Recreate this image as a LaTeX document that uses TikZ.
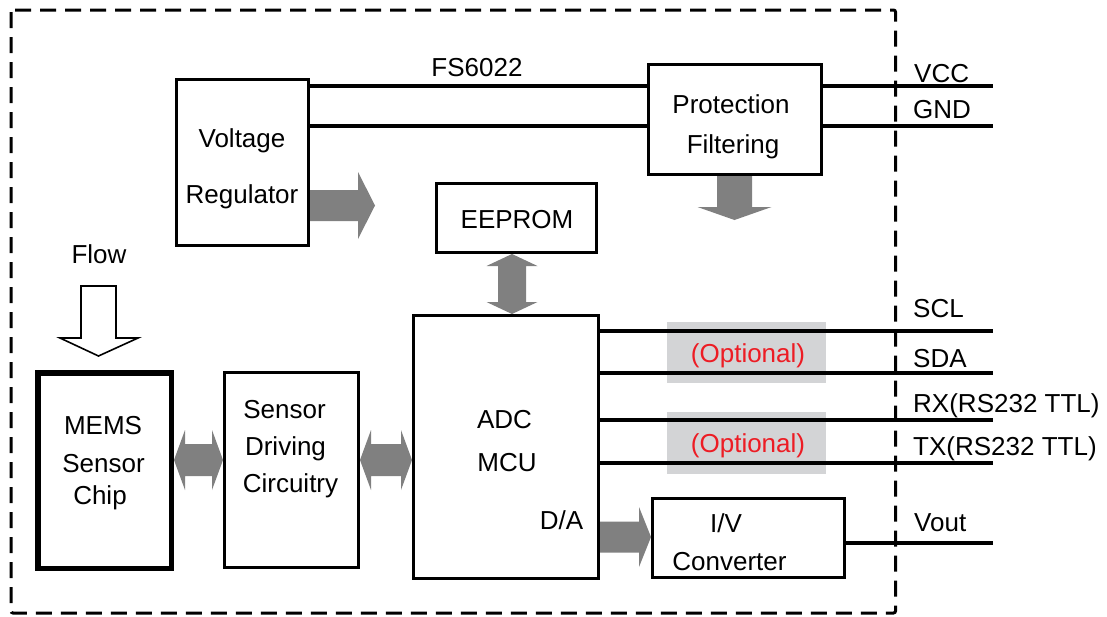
\documentclass[tikz,border=0pt]{standalone}
\usepackage{fontspec}
\setmainfont{Liberation Sans}
\usetikzlibrary{calc}

\definecolor{arrowgray}{RGB}{128,128,128}
\definecolor{optbg}{RGB}{211,212,214}
\definecolor{optred}{RGB}{237,28,36}

% Block arrows: #1 tail/first tip, #2 tip/second tip, #3 head length,
% #4 head half-width, #5 body half-width (all in pt)
\newcommand\BlockRight[5]{%
  \fill[blockarrow] ([yshift=#5]#1) -- ([shift={(-#3,#5)}]#2) -- ([shift={(-#3,#4)}]#2)
    -- (#2) -- ([shift={(-#3,-#4)}]#2) -- ([shift={(-#3,-#5)}]#2) -- ([yshift=-#5]#1) -- cycle;}
\newcommand\BlockDown[5]{%
  \fill[blockarrow] ([xshift=-#5]#1) -- ([shift={(-#5,#3)}]#2) -- ([shift={(-#4,#3)}]#2)
    -- (#2) -- ([shift={(#4,#3)}]#2) -- ([shift={(#5,#3)}]#2) -- ([xshift=#5]#1) -- cycle;}
\newcommand\BlockBothH[5]{%
  \fill[blockarrow] (#1) -- ([shift={(#3,#4)}]#1) -- ([shift={(#3,#5)}]#1)
    -- ([shift={(-#3,#5)}]#2) -- ([shift={(-#3,#4)}]#2) -- (#2)
    -- ([shift={(-#3,-#4)}]#2) -- ([shift={(-#3,-#5)}]#2)
    -- ([shift={(#3,-#5)}]#1) -- ([shift={(#3,-#4)}]#1) -- cycle;}
\newcommand\BlockBothV[5]{%
  \fill[blockarrow] (#1) -- ([shift={(#4,-#3)}]#1) -- ([shift={(#5,-#3)}]#1)
    -- ([shift={(#5,#3)}]#2) -- ([shift={(#4,#3)}]#2) -- (#2)
    -- ([shift={(-#4,#3)}]#2) -- ([shift={(-#5,#3)}]#2)
    -- ([shift={(-#5,-#3)}]#1) -- ([shift={(-#4,-#3)}]#1) -- cycle;}

\begin{document}
\begin{tikzpicture}[x=1pt,y=1pt,
  box/.style={draw, line width=3.4pt, inner sep=0pt},
  thickbox/.style={draw, line width=5.5pt, inner sep=0pt},
  lab/.style={inner sep=0pt, anchor=base, font=\fontsize{26}{30}\selectfont},
  pin/.style={lab, anchor=base west},
  wire/.style={line width=3.2pt},
  blockarrow/.style={fill=arrowgray},
  border/.style={line width=3pt, dash pattern=on 16pt off 9pt, rounded corners=2pt},
  optbox/.style={fill=optbg, inner sep=0pt}]

\useasboundingbox (0,0) rectangle (1107,-616);
\fill[white] (0,0) rectangle (1107,-616);

% module outline
\draw[border] (11,-10) rectangle (895.5,-613);

% shaded "optional" zones behind the bus wires
\node[optbox, minimum width=159pt, minimum height=61pt] (opt1) at (746.5,-352.5) {};
\node[optbox, minimum width=159pt, minimum height=62pt] (opt2) at (746,-443) {};

% blocks
\node[box, minimum width=131.6pt, minimum height=165.6pt] (reg) at (242.5,-162.5) {};
\node[box, minimum width=172.6pt, minimum height=109.6pt] (prot) at (735,-119.5) {};
\node[box, minimum width=159.6pt, minimum height=68.6pt] (eeprom) at (516.5,-218) {};
\node[box, minimum width=184.6pt, minimum height=262.6pt] (mcu) at (506,-447) {};
\node[thickbox, minimum width=133.5pt, minimum height=195.5pt] (mems) at (104.5,-470.5) {};
\node[box, minimum width=133.6pt, minimum height=194.6pt] (drv) at (291.5,-470) {};
\node[box, minimum width=191.6pt, minimum height=78.6pt] (iv) at (748.5,-538) {};

% wire end points at the connector edge
\coordinate (vcc) at (993,-86);
\coordinate (gnd) at (993,-126);
\coordinate (scl) at (993,-331);
\coordinate (sda) at (993,-373);
\coordinate (rx)  at (993,-420);
\coordinate (tx)  at (993,-463);
\coordinate (vout) at (993,-543);

% power wires
\draw[wire] (reg.east |- vcc) -- (prot.west |- vcc);
\draw[wire] (prot.east |- vcc) -- (vcc);
\draw[wire] (reg.east |- gnd) -- (prot.west |- gnd);
\draw[wire] (prot.east |- gnd) -- (gnd);

% MCU bus wires
\draw[wire] (mcu.east |- scl) -- (scl);
\draw[wire] (mcu.east |- sda) -- (sda);
\draw[wire] (mcu.east |- rx) -- (rx);
\draw[wire] (mcu.east |- tx) -- (tx);
\draw[wire] (iv.east |- vout) -- (vout);

% block arrows
\coordinate (r1) at (reg.east |- 0,-205.5);
\coordinate (r2) at (375,-205.5);
\BlockRight{r1}{r2}{17}{33.5}{15.5}

\coordinate (p1) at (prot.south -| 734.5,0);
\coordinate (p2) at (734.5,-220);
\BlockDown{p1}{p2}{13}{37}{17.5}

\coordinate (e1) at (eeprom.south -| 512,0);
\coordinate (e2) at (mcu.north -| 512,0);
\BlockBothV{e1}{e2}{12}{25.5}{14}

\coordinate (m1) at (mems.east |- 0,-460);
\coordinate (m2) at (drv.west |- 0,-460);
\BlockBothH{m1}{m2}{11}{30}{16}

\coordinate (s1) at (drv.east |- 0,-460);
\coordinate (s2) at (mcu.west |- 0,-460);
\BlockBothH{s1}{s2}{11}{30}{16}

\coordinate (d1) at (mcu.east |- 0,-537);
\coordinate (d2) at (iv.west |- 0,-537);
\BlockRight{d1}{d2}{12}{30}{15.5}

% hollow flow arrow onto the sensor chip
\coordinate (flowtip) at (98.5,-356);
\draw[line width=1.6pt, line join=miter, fill=white]
  ([shift={(-17.5,70)}]flowtip) -- ([shift={(17.5,70)}]flowtip) -- ([shift={(17.5,18)}]flowtip)
  -- ([shift={(39.5,18)}]flowtip) -- (flowtip) -- ([shift={(-38.5,18)}]flowtip)
  -- ([shift={(-17.5,18)}]flowtip) -- cycle;

% texts
\node[lab] (tfs) at (477,-76) {FS6022};
\node[lab] (treg1) at (242,-147) {Voltage};
\node[lab] (treg2) at (242,-203) {Regulator};
\node[lab] (tprot1) at (731,-113) {Protection};
\node[lab] (tprot2) at (733,-153) {Filtering};
\node[lab] (teep) at (517,-228) {EEPROM};
\node[lab] (tflow) at (99,-263) {Flow};
\node[lab] (tmems1) at (103,-434) {MEMS};
\node[lab] (tmems2) at (103.5,-472) {Sensor};
\node[lab] (tmems3) at (100,-504) {Chip};
\node[lab] (tdrv1) at (284.5,-418) {Sensor};
\node[lab] (tdrv2) at (285.5,-455) {Driving};
\node[lab] (tdrv3) at (290.5,-492) {Circuitry};
\node[lab] (tadc) at (504.5,-428) {ADC};
\node[lab] (tmcu) at (507,-471) {MCU};
\node[lab] (tda) at (561.5,-529) {D/A};
\node[lab] (tiv1) at (726,-532) {I/V};
\node[lab] (tiv2) at (729.5,-570) {Converter};
\node[lab, text=optred] (topt1) at (748,-362) {(Optional)};
\node[lab, text=optred] (topt2) at (748,-452) {(Optional)};

\node[pin] (tvcc) at (914,-82) {VCC};
\node[pin] (tgnd) at (913,-118) {GND};
\node[pin] (tscl) at (913,-317) {SCL};
\node[pin] (tsda) at (913,-367) {SDA};
\node[pin] (trx) at (913,-412) {RX(RS232 TTL)};
\node[pin] (ttx) at (913,-455) {TX(RS232 TTL)};
\node[pin] (tvout) at (914,-531) {Vout};

\end{tikzpicture}
\end{document}
